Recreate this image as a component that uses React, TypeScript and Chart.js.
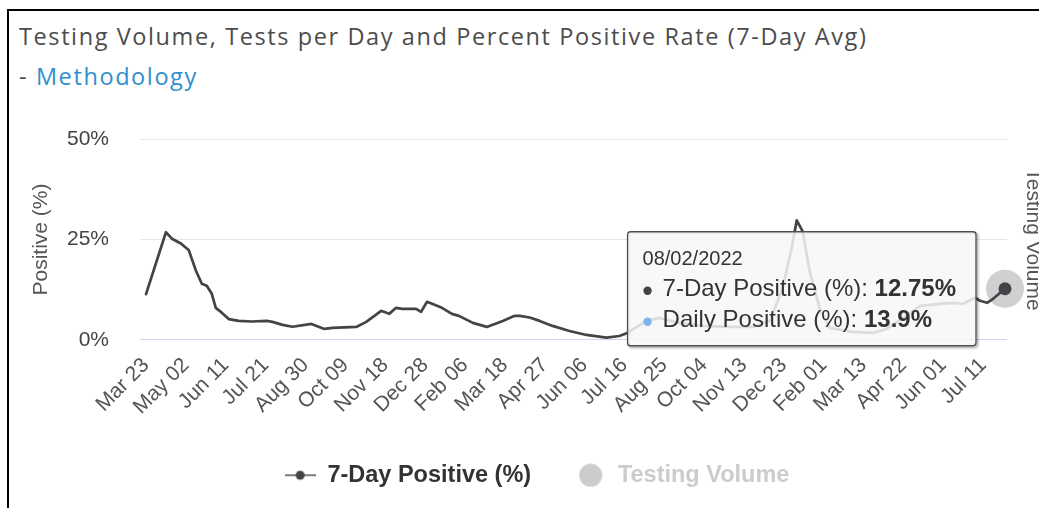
import React, { useEffect, useRef } from "react";
import { Chart, registerables } from "chart.js";

Chart.register(...registerables);

// ---- data ----
const sampleDates = [
  "2020-03-23", "2020-04-12", "2020-04-18", "2020-04-27", "2020-05-05", "2020-05-12",
  "2020-05-18", "2020-05-23", "2020-05-28", "2020-06-01", "2020-06-07", "2020-06-14",
  "2020-06-24", "2020-07-07", "2020-07-22", "2020-07-28", "2020-08-07", "2020-08-17",
  "2020-09-05", "2020-09-18", "2020-09-26", "2020-10-20", "2020-10-30", "2020-11-14",
  "2020-11-22", "2020-11-29", "2020-12-05", "2020-12-19", "2020-12-24", "2020-12-30",
  "2021-01-14", "2021-01-24", "2021-01-31", "2021-02-14", "2021-02-28", "2021-03-16",
  "2021-03-28", "2021-04-02", "2021-04-12", "2021-04-22", "2021-05-05", "2021-05-22",
  "2021-06-08", "2021-06-28", "2021-07-11", "2021-07-19", "2021-08-07", "2021-08-20",
  "2021-09-09", "2021-10-03", "2021-10-27", "2021-11-22", "2021-12-09", "2021-12-22",
  "2021-12-31", "2022-01-05", "2022-01-11", "2022-01-18", "2022-01-28", "2022-02-07",
  "2022-03-02", "2022-03-22", "2022-04-05", "2022-04-22", "2022-05-09", "2022-05-29",
  "2022-06-11", "2022-06-21", "2022-07-03", "2022-07-08", "2022-07-15", "2022-07-21",
  "2022-08-02",
];
const positive7 = [
  11.4, 26.8, 25.2, 24.0, 22.3, 17.3,
  14.0, 13.5, 11.5, 8.0, 6.8, 5.2,
  4.75, 4.6, 4.75, 4.5, 3.75, 3.3,
  4.0, 2.75, 3.0, 3.25, 4.5, 7.25,
  6.5, 8.0, 7.75, 7.75, 7.0, 9.5,
  8.0, 6.5, 6.0, 4.25, 3.25, 4.75,
  6.0, 6.0, 5.6, 4.75, 3.5, 2.25,
  1.25, 0.6, 1.0, 1.75, 4.75, 5.5,
  4.25, 3.5, 3.25, 3.25, 4.75, 13.0,
  23.0, 29.75, 27.0, 17.0, 8.0, 3.0,
  2.0, 1.75, 2.75, 5.5, 8.5, 9.0,
  9.25, 9.0, 10.5, 9.75, 9.25, 10.25,
  12.75,
];
const tickDates = [
  "2020-03-23", "2020-05-02", "2020-06-11", "2020-07-21", "2020-08-30", "2020-10-09",
  "2020-11-18", "2020-12-28", "2021-02-06", "2021-03-18", "2021-04-27", "2021-06-06",
  "2021-07-16", "2021-08-25", "2021-10-04", "2021-11-13", "2021-12-23", "2022-02-01",
  "2022-03-13", "2022-04-22", "2022-06-01", "2022-07-11",
];
const tickLabels = [
  "Mar 23", "May 02", "Jun 11", "Jul 21", "Aug 30", "Oct 09",
  "Nov 18", "Dec 28", "Feb 06", "Mar 18", "Apr 27", "Jun 06",
  "Jul 16", "Aug 25", "Oct 04", "Nov 13", "Dec 23", "Feb 01",
  "Mar 13", "Apr 22", "Jun 01", "Jul 11",
];
const yTickValues = [0, 25, 50];
const yTickLabels = ["0%", "25%", "50%"];
const seriesNames = ["7-Day Positive (%)", "Daily Positive (%)", "Testing Volume"];
const hoverDateLabel = "08/02/2022";
const dailyPositiveAtHover = 13.9;

const START = Date.UTC(2020, 2, 23);
const dayOf = (iso: string) => {
  const [y, m, d] = iso.split("-").map(Number);
  return Math.round((Date.UTC(y, m - 1, d) - START) / 86400000);
};

const FONT = "'Liberation Sans', Arial, sans-serif";

function makeLineDot() {
  const c = document.createElement("canvas");
  c.width = 31;
  c.height = 12;
  const g = c.getContext("2d")!;
  g.strokeStyle = "#7a7a7e";
  g.lineWidth = 2;
  g.beginPath();
  g.moveTo(0, 6);
  g.lineTo(31, 6);
  g.stroke();
  g.fillStyle = "#434348";
  g.beginPath();
  g.arc(15.5, 6, 4.5, 0, Math.PI * 2);
  g.fill();
  return c;
}

function makeCircle() {
  const c = document.createElement("canvas");
  c.width = 24;
  c.height = 24;
  const g = c.getContext("2d")!;
  g.fillStyle = "#cccccc";
  g.beginPath();
  g.arc(12, 12, 11.5, 0, Math.PI * 2);
  g.fill();
  return c;
}

function roundRect(ctx: CanvasRenderingContext2D, x: number, y: number, w: number, h: number, r: number) {
  ctx.beginPath();
  ctx.moveTo(x + r, y);
  ctx.lineTo(x + w - r, y);
  ctx.arcTo(x + w, y, x + w, y + r, r);
  ctx.lineTo(x + w, y + h - r);
  ctx.arcTo(x + w, y + h, x + w - r, y + h, r);
  ctx.lineTo(x + r, y + h);
  ctx.arcTo(x, y + h, x, y + h - r, r);
  ctx.lineTo(x, y + r);
  ctx.arcTo(x, y, x + r, y, r);
  ctx.closePath();
}

const hoverPlugin = {
  id: "hoverTooltip",
  afterDraw(chart: any) {
    const meta = chart.getDatasetMeta(0);
    const pt = meta.data[meta.data.length - 1];
    if (!pt) return;
    const ctx: CanvasRenderingContext2D = chart.ctx;
    ctx.save();
    // halo + hover marker
    ctx.fillStyle = "rgba(67,67,72,0.25)";
    ctx.beginPath();
    ctx.arc(pt.x, pt.y, 19, 0, Math.PI * 2);
    ctx.fill();
    ctx.fillStyle = "#434348";
    ctx.beginPath();
    ctx.arc(pt.x, pt.y, 6.5, 0, Math.PI * 2);
    ctx.fill();

    // tooltip
    const last = positive7[positive7.length - 1];
    const rows = [
      { color: "#434348", label: seriesNames[0] + ": ", value: last.toFixed(2) + "%" },
      { color: "#7cb5ec", label: seriesNames[1] + ": ", value: String(dailyPositiveAtHover) + "%" },
    ];
    const bodyReg = `24px ${FONT}`;
    const bodyBold = `bold 24px ${FONT}`;
    let maxW = 0;
    const widths = rows.map((r) => {
      ctx.font = bodyReg;
      const a = ctx.measureText(r.label).width;
      ctx.font = bodyBold;
      const b = ctx.measureText(r.value).width;
      maxW = Math.max(maxW, a + b);
      return a;
    });
    const w = 35 + maxW + 20;
    const h = 114;
    const right = pt.x - 29;
    const left = right - w;
    const top = pt.y - 57;

    // shadow
    for (let i = 1; i <= 3; i++) {
      ctx.strokeStyle = `rgba(0,0,0,${0.05 * i})`;
      ctx.lineWidth = 7 - 2 * i;
      roundRect(ctx, left + 1.5, top + 1.5, w, h, 3);
      ctx.stroke();
    }
    ctx.fillStyle = "rgba(247,247,247,0.85)";
    roundRect(ctx, left, top, w, h, 3);
    ctx.fill();
    ctx.strokeStyle = "#4d4d52";
    ctx.lineWidth = 1.3;
    ctx.stroke();

    ctx.textBaseline = "middle";
    ctx.textAlign = "left";
    ctx.fillStyle = "#333333";
    ctx.font = `20px ${FONT}`;
    ctx.fillText(hoverDateLabel, left + 15, top + 28);
    rows.forEach((r, i) => {
      const cy = top + 58 + i * 31;
      ctx.fillStyle = r.color;
      ctx.beginPath();
      ctx.arc(left + 20, cy + 1, 4.2, 0, Math.PI * 2);
      ctx.fill();
      ctx.fillStyle = "#333333";
      ctx.font = bodyReg;
      ctx.fillText(r.label, left + 35, cy);
      ctx.font = bodyBold;
      ctx.fillText(r.value, left + 35 + widths[i], cy);
    });
    ctx.restore();
  },
};

export default function App() {
  const ref = useRef<HTMLCanvasElement>(null);

  useEffect(() => {
    const canvas = ref.current;
    if (!canvas) return;
    const lineDot = makeLineDot();
    const circle = makeCircle();
    const chart = new Chart(canvas, {
      type: "line",
      data: {
        datasets: [
          {
            label: seriesNames[0],
            data: sampleDates.map((d, i) => ({ x: dayOf(d), y: positive7[i] })),
            borderColor: "#434348",
            backgroundColor: "#434348",
            borderWidth: 2.7,
            borderJoinStyle: "round",
            borderCapStyle: "round",
            pointRadius: 0,
            pointHoverRadius: 0,
            tension: 0,
            yAxisID: "y",
          },
          {
            label: seriesNames[2],
            data: [],
            yAxisID: "y1",
            hidden: true,
            borderColor: "#cccccc",
            backgroundColor: "#cccccc",
          },
        ],
      },
      options: {
        responsive: false,
        animation: false,
        events: [],
        layout: { padding: { left: 6, top: 30, right: 0, bottom: 12 } },
        scales: {
          x: {
            type: "linear",
            min: -6,
            max: 864,
            grid: {
              display: true,
              drawOnChartArea: false,
              drawTicks: true,
              tickLength: 13,
              tickColor: "transparent",
              color: "transparent",
            },
            border: { display: false },
            afterBuildTicks: (axis: any) => {
              axis.ticks = tickDates.map((d) => ({ value: dayOf(d) }));
            },
            ticks: {
              autoSkip: false,
              maxRotation: 45,
              minRotation: 45,
              padding: 0,
              color: "#555555",
              font: { family: FONT, size: 21 },
              callback: (_v: any, i: number) => tickLabels[i],
            },
          },
          y: {
            position: "left",
            min: 0,
            max: 50,
            afterBuildTicks: (axis: any) => {
              axis.ticks = yTickValues.map((v) => ({ value: v }));
            },
            grid: {
              drawTicks: true,
              tickLength: 31,
              tickColor: "transparent",
              color: (c: any) => (c.tick && c.tick.value === 0 ? "#ccd6eb" : "#e6e6e6"),
              lineWidth: 1,
            },
            border: { display: false },
            ticks: {
              padding: 0,
              color: "#444444",
              font: { family: FONT, size: 21 },
              callback: (_v: any, i: number) => yTickLabels[i],
            },
            title: {
              display: true,
              text: "Positive (%)",
              color: "#555555",
              font: { family: FONT, size: 21 },
              padding: { top: 13.4, bottom: 13.4 },
            },
          },
          y1: {
            position: "right",
            display: true,
            grid: { display: false, drawTicks: false },
            border: { display: false },
            ticks: { display: false },
            title: {
              display: true,
              text: seriesNames[2],
              color: "#555555",
              font: { family: FONT, size: 21 },
              padding: { top: 13.4, bottom: 13.4 },
            },
          },
        },
        plugins: {
          tooltip: { enabled: false },
          legend: {
            position: "bottom",
            onClick: () => {},
            labels: {
              usePointStyle: true,
              pointStyleWidth: 31,
              padding: 44,
              font: { family: FONT, size: 23.5, weight: "bold" },
              color: "#333333",
              generateLabels: () => [
                {
                  text: seriesNames[0],
                  pointStyle: lineDot,
                  fontColor: "#333333",
                  fillStyle: "transparent",
                  strokeStyle: "transparent",
                  lineWidth: 0,
                  hidden: false,
                  datasetIndex: 0,
                },
                {
                  text: seriesNames[2],
                  pointStyle: circle,
                  fontColor: "#cccccc",
                  fillStyle: "transparent",
                  strokeStyle: "transparent",
                  lineWidth: 0,
                  hidden: false,
                  datasetIndex: 1,
                },
              ],
            },
          },
        },
      } as any,
      plugins: [hoverPlugin],
    } as any);
    return () => chart.destroy();
  }, []);

  return (
    <div
      style={{
        position: "fixed",
        left: 0,
        top: 0,
        width: 1039,
        height: 508,
        overflow: "hidden",
        background: "#ffffff",
      }}
    >
      <div
        style={{
          position: "absolute",
          left: 7,
          top: 9,
          width: 1200,
          height: 700,
          border: "2px solid #000000",
          boxSizing: "border-box",
        }}
      />
      <div
        style={{
          position: "absolute",
          left: 19,
          top: 16,
          fontFamily: "'Open Sans', Lato, sans-serif",
          fontSize: 23.5,
          letterSpacing: "1.6px",
          lineHeight: "40px",
          color: "#4c4c4c",
          whiteSpace: "nowrap",
        }}
      >
        <div>Testing Volume, Tests per Day and Percent Positive Rate (7-Day Avg)</div>
        <div>
          - <span style={{ color: "#2f8fce" }}>Methodology</span>
        </div>
      </div>
      <div style={{ position: "absolute", left: 9, top: 109, width: 1050, height: 400 }}>
        <canvas
          ref={ref}
          width={1050}
          height={400}
          style={{ display: "block", width: 1050, height: 400 }}
        />
      </div>
    </div>
  );
}
